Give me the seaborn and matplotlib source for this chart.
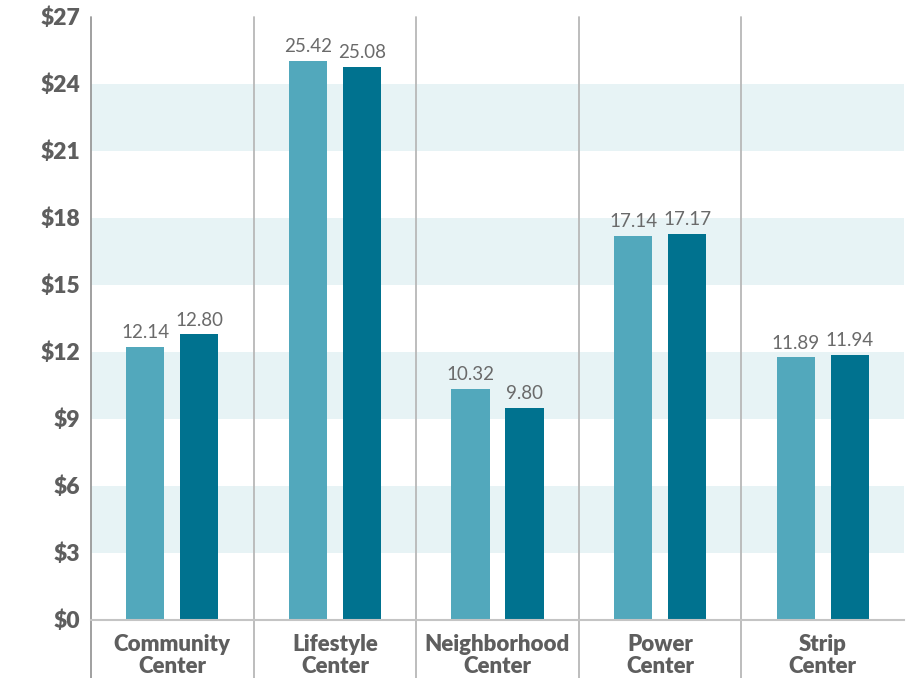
import matplotlib
matplotlib.use("Agg")
import matplotlib.pyplot as plt
import seaborn as sns
import pandas as pd

categories = ["Community\nCenter", "Lifestyle\nCenter", "Neighborhood\nCenter", "Power\nCenter", "Strip\nCenter"]
series_names = ["Series 1", "Series 2"]
# bar heights
heights_1 = [12.22, 25.02, 10.33, 17.18, 11.76]
heights_2 = [12.79, 24.75, 9.48, 17.27, 11.85]
# printed data labels
labels_1 = ["12.14", "25.42", "10.32", "17.14", "11.89"]
labels_2 = ["12.80", "25.08", "9.80", "17.17", "11.94"]
y_ticks = [0, 3, 6, 9, 12, 15, 18, 21, 24, 27]
y_tick_labels = ["$0", "$3", "$6", "$9", "$12", "$15", "$18", "$21", "$24", "$27"]
bands = [(3, 6), (9, 12), (15, 18), (21, 24)]

df = pd.DataFrame({
    "category": categories * 2,
    "series": [series_names[0]] * 5 + [series_names[1]] * 5,
    "value": heights_1 + heights_2,
})

sns.set_theme(style="white")
plt.rcParams["font.family"] = ["Lato", "DejaVu Sans"]

fig = plt.figure(figsize=(9.12, 6.78), dpi=100)
W, H = 912, 678
left, right, top, bottom = 91, 904, 16.7, 619.7
ax = fig.add_axes([left / W, 1 - bottom / H, (right - left) / W, (bottom - top) / H])

for lo, hi in bands:
    ax.axhspan(lo, hi, color="#e7f3f5", zorder=0, lw=0)

sns.barplot(data=df, x="category", y="value", hue="series",
            palette=["#52a8bc", "#00728f"], width=0.664, gap=0.295,
            legend=False, ax=ax, zorder=3, saturation=1, linewidth=0)

for cont, labs in zip(ax.containers, [labels_1, labels_2]):
    ax.bar_label(cont, labels=labs, padding=4, fontsize=13.5, color="#6a6a6a")

ax.set_xlim(-0.5, 4.5)
ax.set_ylim(0, 27)
ax.set_yticks(y_ticks)
ax.set_yticklabels(y_tick_labels, fontsize=16.5, fontweight="heavy", color="#5e5e5e")
ax.set_xticks(range(5))
ax.set_xticklabels(categories, fontsize=16, fontweight="heavy", color="#5e5e5e", linespacing=1.1)
ax.tick_params(axis="y", length=0, pad=8)
ax.tick_params(axis="x", length=0, pad=10)
ax.set_xlabel("")
ax.set_ylabel("")

for s in ["top", "right", "left"]:
    ax.spines[s].set_visible(False)
ax.spines["bottom"].set_color("#c4c4c4")
ax.spines["bottom"].set_linewidth(1.5)
ax.spines["bottom"].set_zorder(4)

ext = -(H - bottom) / (bottom - top)
for i, xpos in enumerate([-0.5, 0.5, 1.5, 2.5, 3.5]):
    ax.plot([xpos, xpos], [1.0, ext], transform=ax.get_xaxis_transform(),
            color="#999999" if i == 0 else "#b8b8b8", lw=1.3, clip_on=False, zorder=2)

fig.savefig("out.png", dpi=100)
